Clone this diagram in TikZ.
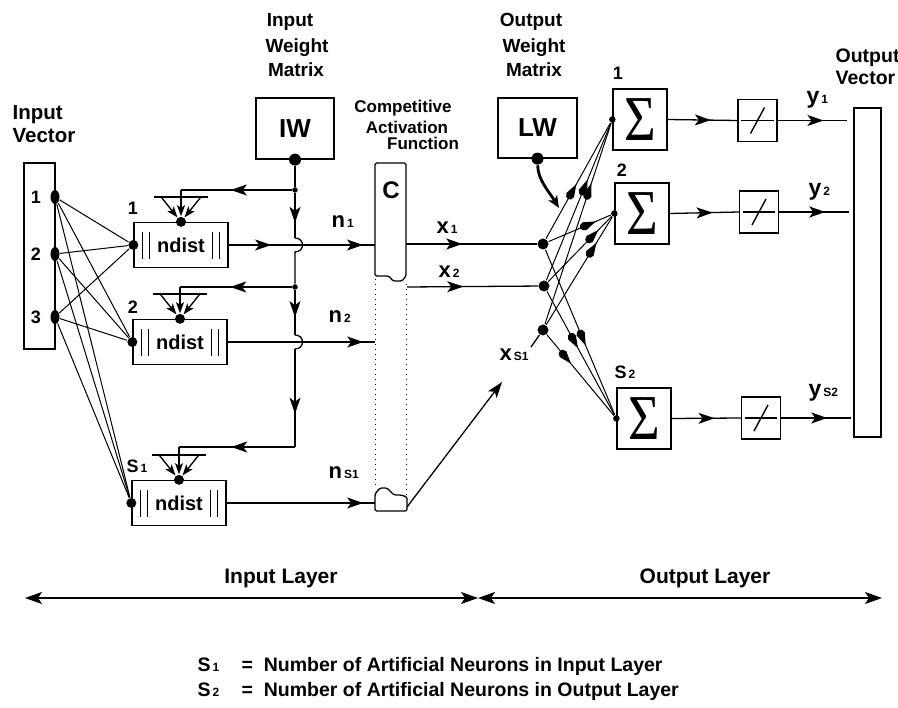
\documentclass[tikz,border=0pt]{standalone}
\usepackage{fontspec}
\setmainfont{Liberation Sans}
\newfontfamily\sigfont{Liberation Serif}
\usepackage{graphicx}
\usetikzlibrary{arrows.meta,decorations.markings,shapes.geometric}
\newcommand{\fs}[1]{\fontsize{#1}{#1}\selectfont}
\newcommand{\sbs}[1]{\hspace{2pt}{\fs{12}#1}}
\newcommand{\bigsig}{\scalebox{0.85}[1]{\sigfont\mdseries\fs{64}Σ}}
\begin{document}
\begin{tikzpicture}[x=1pt,y=-1pt,line width=1.3pt,font=\bfseries\fs{18},
  endarr/.style={-{Stealth[length=16pt,width=11pt,inset=4pt]}},
  smallarr/.style={-{Stealth[length=11pt,width=8pt,inset=2.5pt]}},
  marr/.style={postaction={decorate},decoration={markings,mark=at position #1 with {\arrow{Stealth[length=16pt,width=11pt,inset=4pt]}}}},
  warr/.style={postaction={decorate},decoration={markings,mark=at position #1 with {\fill (-13pt,0pt) circle (4pt); \arrow{Stealth[length=13pt,width=9pt,inset=3pt]}}}},
  blob/.style={circle,fill,inner sep=0pt,minimum size=#1},
  txt/.style={inner sep=0pt},
  bx/.style={draw,line width=1.3pt,inner sep=0pt},
  nbox/.style={bx,minimum width=94pt,minimum height=45pt,font=\bfseries\fs{20}},
  sbox/.style={bx,minimum width=54pt,minimum height=61pt},
  lbox/.style={bx,minimum width=39pt,minimum height=42pt},
  head/.style={txt,anchor=base,font=\bfseries\fs{19}},
]
\fill[white] (0,0) rectangle (898,708);
\useasboundingbox (0,0) rectangle (898,708);

% ---------- input vector
\node[bx,minimum width=31pt,minimum height=186pt] (iv) at (39.5,256) {};
\node[txt,anchor=base west,font=\bfseries\fs{20.5}] (ivl1) at (12,120) {Input};
\node[txt,anchor=base west,font=\bfseries\fs{20.5}] (ivl2) at (12,143) {Vector};
\foreach \n/\y in {1/197,2/254,3/317}{
  \node[ellipse,fill,inner sep=0pt,minimum width=9pt,minimum height=14pt] (i\n) at (55,\y) {};
  \node[txt,font=\bfseries\fs{18}] (il\n) at (36,\y) {\n};
}

% ---------- ndist boxes
\node[nbox] (b1) at (181,245) {ndist};
\node[nbox] (b2) at (180,342) {ndist};
\node[nbox] (b3) at (179,503) {ndist};
\foreach \bb in {b1,b2,b3}{
  \foreach \d in {9,16} \draw[line width=1.1pt] ([shift={(\d,-13)}]\bb.west) -- ++(0,27);
  \foreach \d in {-9,-16} \draw[line width=1.1pt] ([shift={(\d,-13)}]\bb.east) -- ++(0,27);
  \node[blob=10pt] (\bb l) at (\bb.west) {};
  \node[blob=10pt] (\bb t) at (\bb.north) {};
  \draw[line width=2.2pt] ([shift={(-27,-25)}]\bb.north) -- ([shift={(27,-25)}]\bb.north);
  \draw[smallarr] ([shift={(-20,-25)}]\bb.north) -- (\bb t);
  \draw[smallarr] ([shift={(20,-25)}]\bb.north) -- (\bb t);
}
\node[txt,font=\bfseries\fs{18}] (bl1) at (133,208) {1};
\node[txt,font=\bfseries\fs{18}] (bl2) at (133,307) {2};
\node[txt,font=\bfseries\fs{18}] (bl3) at (137,466) {S\sbs{1}};

\foreach \i in {i1,i2,i3} \foreach \bb in {b1l,b2l,b3l} \draw[line width=1pt] (\i) -- (\bb);

% ---------- input weight matrix
\node[bx,minimum width=78pt,minimum height=61pt,font=\bfseries\fs{26}] (iw) at (295,128.5) {IW};
\node[blob=12pt] (iwd) at (iw.south) {};
\node[head] (iwl1) at (290,27) {Input};
\node[head] (iwl2) at (297,53) {Weight};
\node[head] (iwl3) at (296,77) {Matrix};

\node[blob=5.5pt] (j1) at (295,190) {};
\node[blob=5.5pt] (j2) at (295,287) {};
\coordinate (k1a) at (295,238); \coordinate (k1b) at (295,252);
\coordinate (k2a) at (295,335); \coordinate (k2b) at (295,349);
\coordinate (c3) at (295,447);
\coordinate (f1) at (b1t |- j1);
\coordinate (f2) at (b2t |- j2);
\coordinate (f3) at (b3t |- c3);
\draw (iwd) -- (j1);
\draw[marr=0.66] (j1) -- (k1a);
\draw (k1a) .. controls (305,238) and (305,252) .. (k1b) -- (j2);
\draw[marr=0.6] (j2) -- (k2a);
\draw (k2a) .. controls (305,335) and (305,349) .. (k2b);
\draw[marr=0.66] (k2b) -- (c3);
\draw[marr=0.55] (c3) -- (f3);
\draw[smallarr] (f3) -- (b3t);
\draw[marr=0.55] (j1) -- (f1);
\draw[smallarr] (f1) -- (b1t);
\draw[marr=0.55] (j2) -- (f2);
\draw[smallarr] (f2) -- (b2t);

% ---------- n lines
\coordinate (m1) at (295,245);
\coordinate (cn1) at (375,245);
\coordinate (cn2) at (375,342);
\coordinate (cn3) at (375,503);
\draw[marr=0.64] (b1.east) -- (m1);
\draw[marr=0.85] (m1) -- (cn1);
\draw[marr=0.92] (b2.east) -- (cn2);
\draw[marr=0.92] (b3.east) -- (cn3);
\node[txt,anchor=base west,font=\bfseries\fs{22}] (n1) at (331,228) {n\sbs{1}};
\node[txt,anchor=base west,font=\bfseries\fs{22}] (n2) at (328,323) {n\sbs{2}};
\node[txt,anchor=base west,font=\bfseries\fs{22}] (n3) at (328,479) {n\sbs{S1}};

% ---------- competitive function C
\draw[line width=1.3pt,rounded corners=1.5pt] (375,163) -- (406,163) -- (406,276) -- (402,281) -- (393,281) -- (389,276) -- (375,276) -- cycle;
\node[txt,font=\bfseries\fs{24}] (cl) at (391,190) {C};
\draw[line width=1.3pt,rounded corners=1.5pt] (375,511) -- (375,494) -- (380,488) -- (387,488) -- (394,495) -- (401,495) -- (407,497) -- (407,511) -- cycle;
\draw[line width=1pt,dash pattern=on 1pt off 4pt] (375,279) -- (375,488);
\draw[line width=1pt,dash pattern=on 1pt off 4pt] (406,284) -- (406,496);
\node[txt,anchor=base,font=\bfseries\fs{17}] (cf1) at (403,113) {Competitive};
\node[txt,anchor=base,font=\bfseries\fs{17}] (cf2) at (407,134) {Activation};
\node[txt,anchor=base,font=\bfseries\fs{17}] (cf3) at (423,150) {Function};

% ---------- x lines
\coordinate (cx1) at (406,244);
\coordinate (cx2) at (407,287);
\node[blob=11pt] (X1) at (543,244) {};
\node[blob=11pt] (X2) at (544,286) {};
\node[blob=11pt] (XS) at (543,330) {};
\draw[marr=0.43] (cx1) -- (X1);
\draw[marr=0.43] (cx2) -- (X2);
\coordinate (cx3) at (407,507);
\coordinate (xe) at (502,382);
\coordinate (xr) at (531,347);
\draw[endarr] (cx3) -- (xe);
\draw (xr) -- (XS);
\node[txt,anchor=base west,font=\bfseries\fs{22}] (x1l) at (436,234) {x\sbs{1}};
\node[txt,anchor=base west,font=\bfseries\fs{22}] (x2l) at (438,278) {x\sbs{2}};
\node[txt,anchor=base west,font=\bfseries\fs{22}] (x3l) at (499,361) {x\sbs{S1}};

% ---------- output weight matrix
\node[bx,minimum width=79pt,minimum height=60pt,font=\bfseries\fs{26}] (lw) at (537.5,128) {LW};
\node[blob=12pt] (lwd) at (lw.south) {};
\coordinate (lwe) at (559,208);
\draw[line width=2.8pt,-{Stealth[length=12pt,width=10pt,inset=3pt]}] (lwd) .. controls (538,180) and (548,190) .. (lwe);
\node[head] (owl1) at (531,27) {Output};
\node[head] (owl2) at (534,53) {Weight};
\node[head] (owl3) at (534,77) {Matrix};

% ---------- sum boxes
\node[sbox] (s1) at (640,119.5) {\bigsig};
\node[sbox] (s2) at (642,213.5) {\bigsig};
\node[sbox] (s3) at (644,418.5) {\bigsig};
\node[blob=6.5pt] (s1i) at (s1.west) {};
\node[blob=6.5pt] (s2i) at (s2.west) {};
\node[blob=6.5pt] (s3i) at (s3.west) {};
\node[txt,font=\bfseries\fs{18}] (sl1) at (618,73) {1};
\node[txt,font=\bfseries\fs{18}] (sl2) at (622,170) {2};
\node[txt,font=\bfseries\fs{18}] (sl3) at (625,372) {S\sbs{2}};

\foreach \src/\dst/\t in {X1/s1i/0.47, X2/s1i/0.64, XS/s1i/0.7, X1/s2i/0.76, X2/s2i/0.79, XS/s2i/0.76, X1/s3i/0.58, X2/s3i/0.46, XS/s3i/0.36}
  \draw[line width=1pt,warr=\t] (\src) -- (\dst);

% ---------- linear transfer boxes
\node[lbox] (l1) at (757.5,120.5) {};
\node[lbox] (l2) at (759,212) {};
\node[lbox] (l3) at (761,418) {};
\foreach \l in {l1,l2,l3}{
  \draw[line width=1.1pt] ([xshift=4pt]\l.west) -- ([xshift=-4pt]\l.east);
  \draw[line width=1.4pt] ([shift={(-7,13)}]\l.center) -- ([shift={(7,-13)}]\l.center);
}
\draw[marr=0.62] (s1.east) -- (l1.west);
\draw[marr=0.62] (s2.east) -- (l2.west);
\draw[marr=0.62] (s3.east) -- (l3.west);

% ---------- output vector
\node[bx,minimum width=27pt,minimum height=329pt] (ov) at (867.5,272.5) {};
\coordinate (o1) at (847,120.5);
\coordinate (o2) at (849,212);
\coordinate (o3) at (851,418);
\draw[marr=0.66] (l1.east) -- (o1);
\draw[marr=0.66] (l2.east) -- (o2);
\draw[marr=0.66] (l3.east) -- (o3);
\node[txt,anchor=base west,font=\bfseries\fs{23}] (y1) at (806,104) {y\sbs{1}};
\node[txt,anchor=base west,font=\bfseries\fs{23}] (y2) at (808,196) {y\sbs{2}};
\node[txt,anchor=base west,font=\bfseries\fs{23}] (y3) at (808,397) {y\sbs{S2}};
\node[txt,anchor=base west,font=\bfseries\fs{19.5}] (ovl1) at (835,63) {Output};
\node[txt,anchor=base west,font=\bfseries\fs{19.5}] (ovl2) at (835,85) {Vector};

% ---------- layer arrows
\coordinate (al) at (25,598);
\coordinate (am) at (478,598);
\coordinate (ar) at (882,598);
\draw[line width=1.4pt,{Stealth[length=17pt,width=12pt,inset=4pt]}-{Stealth[length=17pt,width=12pt,inset=4pt]}] (al) -- (am);
\draw[line width=1.4pt,{Stealth[length=17pt,width=12pt,inset=4pt]}-{Stealth[length=17pt,width=12pt,inset=4pt]}] (am) -- (ar);
\node[txt,anchor=base,font=\bfseries\fs{21}] (ill) at (281,584) {Input Layer};
\node[txt,anchor=base,font=\bfseries\fs{21}] (oll) at (705,584) {Output Layer};

% ---------- legend
\node[txt,anchor=base west,font=\bfseries\fs{19.5}] (lg1a) at (197,671) {S\sbs{1}};
\node[txt,anchor=base west,font=\bfseries\fs{19.5}] (lg1b) at (241,671) {=\ \ Number of Artificial Neurons in Input Layer};
\node[txt,anchor=base west,font=\bfseries\fs{19.5}] (lg2a) at (197,696) {S\sbs{2}};
\node[txt,anchor=base west,font=\bfseries\fs{19.5}] (lg2b) at (241,696) {=\ \ Number of Artificial Neurons in Output Layer};
\end{tikzpicture}
\end{document}
